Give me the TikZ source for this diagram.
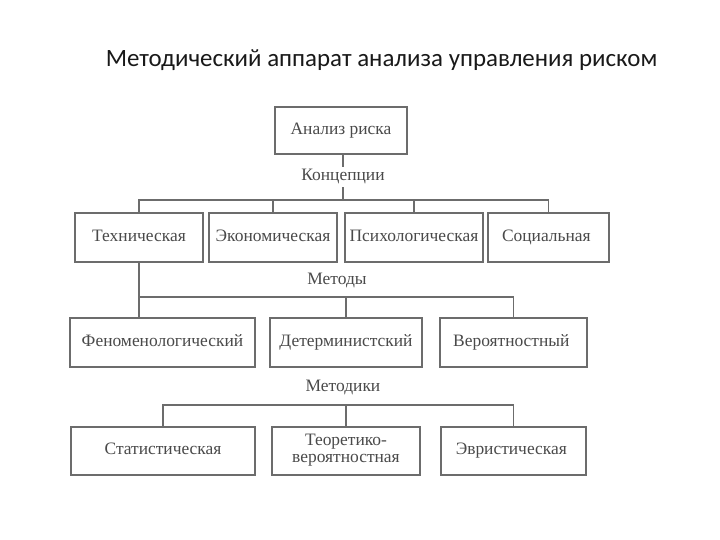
\documentclass[tikz,border=0pt]{standalone}
\usepackage{fontspec}
\setmainfont{Liberation Serif}
\newfontfamily\titlefont{Carlito}
\usetikzlibrary{positioning,calc}

\definecolor{linegray}{HTML}{6C6C6C}
\definecolor{textgray}{HTML}{4A4A4A}

\tikzset{
  box/.style={draw=linegray, line width=1.5pt, inner sep=0pt, align=center,
    text=textgray, font=\fontsize{17.5}{18}\selectfont,
    execute at begin node=\strut},
  tag/.style={inner sep=1pt, text=textgray, font=\fontsize{17.5}{18}\selectfont,
    execute at begin node=\strut},
  wire/.style={draw=linegray, line width=1.5pt}
}

\begin{document}
\begin{tikzpicture}[x=1bp, y=-1bp]
    \useasboundingbox[fill=white] (0,0) rectangle (720,540);

    % Title
    \node[anchor=base, font=\titlefont\fontsize{25}{28}\selectfont, text=black!90] (title) at (381.5,67)
        {Методический аппарат анализа управления риском};

    % Root
    \node[box, minimum width=132bp, minimum height=47bp] (analiz) at (341,130.5) {Анализ риска};
    \node[tag] (konc) at (343,177) {Концепции};
    \coordinate (bus1) at (343,200);

    % Concepts
    \foreach \x/\w/\name/\txt in {
        139/128/tech/Техническая,
        273/128/econ/Экономическая,
        414/138/psych/Психологическая,
        548.5/121/soc/Социальная
    } {
        \node[box, minimum width=\w bp, minimum height=49bp] (\name) at (\x,237.5) {\txt};
    }

    % Methods
    \node[tag] (metody) at (337,281) {Методы};
    \coordinate (bus2) at (337,297);
    \foreach \x/\w/\name/\txt in {
        162.5/185/fen/Феноменологический,
        346/152/det/Детерминистский,
        513.5/147/ver/Вероятностный
    } {
        \node[box, minimum width=\w bp, minimum height=49bp] (\name) at (\x,342.5) {\txt};
    }

    % Techniques
    \node[tag] (metodiki) at (343,388) {Методики};
    \coordinate (bus3) at (343,405);
    \foreach \x/\w/\name/\txt in {
        163/184/stat/Статистическая,
        346/148/teor/{Теоретико-\\вероятностная},
        513.5/145/evr/Эвристическая
    } {
        \node[box, minimum width=\w bp, minimum height=48bp] (\name) at (\x,451) {\txt};
    }

    % Connectors
    \draw[wire] (analiz.south -| konc.north) -- (konc.north);
    \draw[wire] (konc.south) -- (bus1);
    \draw[wire] (tech.north) -- (tech.north |- bus1) -- (soc.north |- bus1) -- (soc.north);
    \draw[wire] (econ.north) -- (econ.north |- bus1);
    \draw[wire] (psych.north) -- (psych.north |- bus1);

    \draw[wire] (tech.south) -- (tech.south |- fen.north);
    \draw[wire] (tech.south |- bus2) -- (ver.north |- bus2) -- (ver.north);
    \draw[wire] (det.north) -- (det.north |- bus2);

    \draw[wire] (stat.north) -- (stat.north |- bus3) -- (evr.north |- bus3) -- (evr.north);
    \draw[wire] (teor.north) -- (teor.north |- bus3);
\end{tikzpicture}
\end{document}
